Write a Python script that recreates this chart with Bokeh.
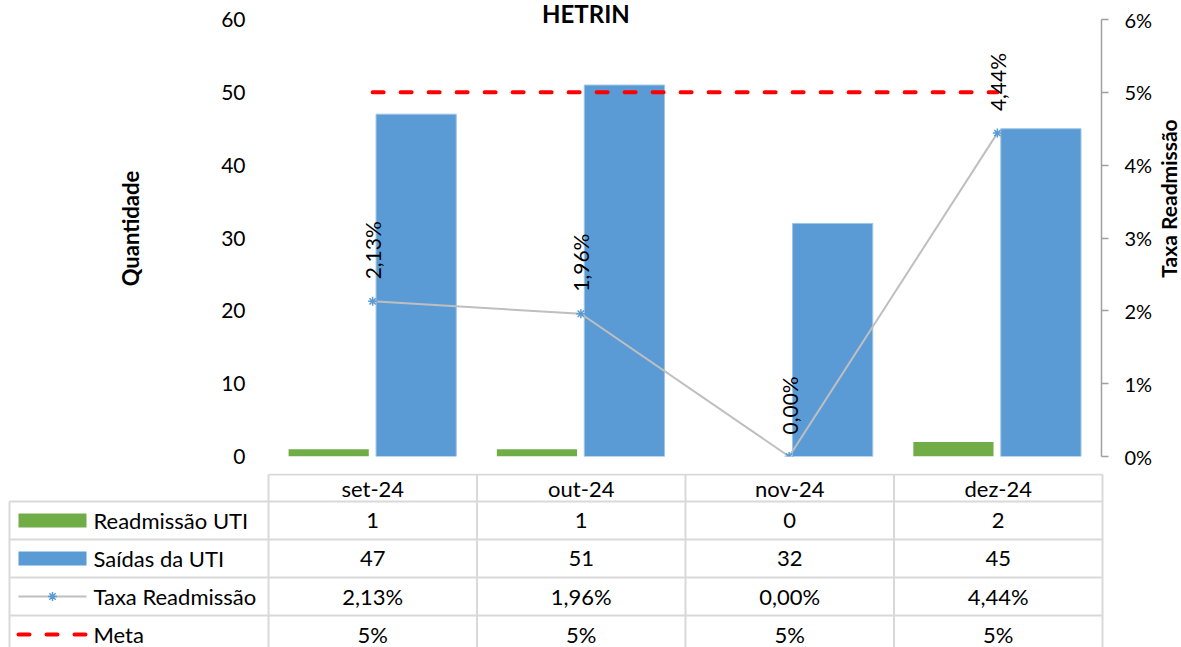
import math
from bokeh.plotting import figure
from bokeh.models import Range1d, LinearAxis, FixedTicker, NumeralTickFormatter, ColumnDataSource
from bokeh.transform import dodge
from bokeh.layouts import column, row
from bokeh.core.properties import value
from bokeh.embed import file_html
from bokeh.resources import INLINE

# ---------------- data ----------------
title = "HETRIN"
categories = ["set-24", "out-24", "nov-24", "dez-24"]
readmissao = [1, 1, 0, 2]
saidas = [47, 51, 32, 45]
taxa = [0.0213, 0.0196, 0.0, 0.0444]
meta = [0.05, 0.05, 0.05, 0.05]
series_names = ["Readmissão UTI", "Saídas da UTI", "Taxa Readmissão", "Meta"]
left_ticks = [0, 10, 20, 30, 40, 50, 60]
right_ticks = [0.0, 0.01, 0.02, 0.03, 0.04, 0.05, 0.06]
left_title = "Quantidade"
right_title = "Taxa Readmissão"

# ---------------- style ----------------
FONT = "Lato"
GREEN = "#70AD47"
BLUE = "#5B9BD5"
RED = "#FF0000"
LINE_GRAY = "#BFBFBF"
GRID = "#D9D9D9"
AXIS_GRAY = "#A0A0A0"

W = 1181
SIDE_W = 26
TOP_W = W - SIDE_W
TOP_H = 473
BOT_H = 174
LEFT = 268
RIGHT = TOP_W - 1102
FRAME_H = 456          # frame spans canvas y 0..456
TOP_PAD = 19           # px between frame top and the max tick
CAT_W = (TOP_W - LEFT - RIGHT) / len(categories)

ymax = left_ticks[-1] * FRAME_H / (FRAME_H - TOP_PAD)
pmax = right_ticks[-1] * FRAME_H / (FRAME_H - TOP_PAD)

fmt_taxa = [f"{v * 100:.2f}%".replace(".", ",") for v in taxa]
fmt_meta = [f"{v * 100:.0f}%" for v in meta]

src = ColumnDataSource(dict(cat=categories, readm=readmissao, said=saidas,
                            taxa=taxa, meta=meta, lab=fmt_taxa))

# ---------------- chart figure ----------------
p = figure(width=TOP_W, height=TOP_H, x_range=categories, y_range=Range1d(0, ymax),
           output_backend="svg", toolbar_location=None,
           x_axis_location=None, y_axis_location="left",
           min_border_left=LEFT, min_border_right=RIGHT,
           min_border_top=0, min_border_bottom=TOP_H - FRAME_H,
           outline_line_color=None, background_fill_color="white",
           border_fill_color="white")
p.frame_align = False
p.grid.visible = False
p.extra_y_ranges = {"pct": Range1d(0, pmax)}

ya = p.yaxis[0]
ya.ticker = FixedTicker(ticks=left_ticks)
ya.bounds = (left_ticks[0], left_ticks[-1])
ya.axis_line_color = None
ya.major_tick_line_color = None
ya.minor_tick_line_color = None
ya.major_tick_out = 0
ya.major_tick_in = 0
ya.major_label_standoff = 23
ya.major_label_text_font = FONT
ya.major_label_text_font_size = "21px"
ya.major_label_text_color = "black"
ya.axis_label = left_title
ya.axis_label_text_font = FONT
ya.axis_label_text_font_style = "bold"
ya.axis_label_text_font_size = "22px"
ya.axis_label_text_color = "black"
ya.axis_label_standoff = 74

ra = LinearAxis(y_range_name="pct", ticker=FixedTicker(ticks=right_ticks),
                formatter=NumeralTickFormatter(format="0%"), bounds=(0, right_ticks[-1]))
ra.axis_line_color = AXIS_GRAY
ra.axis_line_width = 1.5
ra.major_tick_line_color = AXIS_GRAY
ra.major_tick_line_width = 1.5
ra.major_tick_out = 7
ra.major_tick_in = 0
ra.minor_tick_line_color = None
ra.major_label_standoff = 16
ra.major_label_text_font = FONT
ra.major_label_text_font_size = "20px"
ra.major_label_text_color = "black"
p.add_layout(ra, "right")

p.vbar(x=dodge("cat", -0.211, range=p.x_range), top="readm", width=0.385, bottom=0,
       source=src, fill_color=GREEN, line_color=None)
p.vbar(x=dodge("cat", 0.209, range=p.x_range), top="said", width=0.385, bottom=0,
       source=src, fill_color=BLUE, line_color="#9DC3E6", line_width=1)

p.line(x="cat", y="meta", source=src, y_range_name="pct", line_color=RED,
       line_width=4, line_dash="11 17", line_cap="round")
p.line(x="cat", y="taxa", source=src, y_range_name="pct", line_color=LINE_GRAY, line_width=2)
p.scatter(x="cat", y="taxa", source=src, y_range_name="pct", marker="asterisk",
          size=9, line_color=BLUE, line_width=1.5)
p.text(x="cat", y="taxa", text="lab", source=src, y_range_name="pct", angle=90,
       angle_units="deg", text_align="left", text_baseline="middle", y_offset=-22,
       text_font=value(FONT), text_font_size="21px", text_color="black")

p.text(x=[categories[1]], y=[ymax], text=[title], x_offset=5, y_offset=-2,
       text_align="center", text_baseline="top", text_font=value(FONT),
       text_font_style="bold", text_font_size="24px", text_color="black")

# ---------------- right-hand title strip ----------------
s = figure(width=SIDE_W, height=TOP_H, x_range=Range1d(0, SIDE_W), y_range=Range1d(TOP_H, 0),
           output_backend="svg", toolbar_location=None,
           x_axis_location=None, y_axis_location=None,
           min_border_left=0, min_border_right=0, min_border_top=0, min_border_bottom=0,
           outline_line_color=None, background_fill_color="white", border_fill_color="white")
s.frame_align = False
s.grid.visible = False
s.text(x=[13], y=[198], text=[right_title], angle=90, angle_units="deg",
       text_align="center", text_baseline="middle", text_font=value(FONT),
       text_font_style="bold", text_font_size="21px", text_color="black")

# ---------------- data table figure ----------------
B_RIGHT = 73
B_FRAME_W = W - B_RIGHT
x0 = -0.5 - LEFT / CAT_W
x1 = -0.5 + (B_FRAME_W - LEFT) / CAT_W


def px2x(c):
    return (c - LEFT) / CAT_W - 0.5


b = figure(width=W, height=BOT_H, x_range=Range1d(x0, x1), y_range=Range1d(BOT_H, 0),
           output_backend="svg", toolbar_location=None,
           x_axis_location=None, y_axis_location=None,
           min_border_left=0, min_border_right=B_RIGHT, min_border_top=0, min_border_bottom=0,
           outline_line_color=None, background_fill_color="white", border_fill_color="white")
b.frame_align = False
b.grid.visible = False

n = len(categories)
row_y = [1, 28, 66, 104, 142, 180]
row_c = [(row_y[i] + row_y[i + 1]) / 2 for i in range(len(row_y) - 1)]
leg_left = px2x(9)
cat_edges = [i - 0.5 for i in range(n + 1)]

# grid lines
hx0 = [-0.5] + [leg_left] * 4
hx1 = [n - 0.5] * 5
hy = row_y[:5]
b.segment(x0=hx0, y0=hy, x1=hx1, y1=hy, line_color=GRID, line_width=2)
b.segment(x0=[leg_left], y0=[row_y[1]], x1=[leg_left], y1=[row_y[-1]], line_color=GRID, line_width=2)
b.segment(x0=cat_edges, y0=[row_y[0]] * len(cat_edges), x1=cat_edges,
          y1=[row_y[-1]] * len(cat_edges), line_color=GRID, line_width=2)

idx = list(range(n))
tf = dict(text_font=value(FONT), text_font_size="22px", text_color="black",
          text_baseline="middle")
b.text(x=idx, y=[row_c[0]] * n, text=categories, text_align="center", **tf)
b.text(x=idx, y=[row_c[1]] * n, text=[str(v) for v in readmissao], text_align="center", **tf)
b.text(x=idx, y=[row_c[2]] * n, text=[str(v) for v in saidas], text_align="center", **tf)
b.text(x=idx, y=[row_c[3]] * n, text=fmt_taxa, text_align="center", **tf)
b.text(x=idx, y=[row_c[4]] * n, text=fmt_meta, text_align="center", **tf)

# legend keys
b.text(x=[px2x(93)] * 4, y=row_c[1:], text=series_names, text_align="left", **tf)
b.quad(left=[px2x(18)], right=[px2x(86)], top=[row_c[1] - 7], bottom=[row_c[1] + 7],
       fill_color=GREEN, line_color=None)
b.quad(left=[px2x(18)], right=[px2x(86)], top=[row_c[2] - 7], bottom=[row_c[2] + 7],
       fill_color=BLUE, line_color=None)
b.line(x=[px2x(18), px2x(86)], y=[row_c[3]] * 2, line_color=LINE_GRAY, line_width=2)
b.scatter(x=[px2x(52)], y=[row_c[3]], marker="asterisk", size=9, line_color=BLUE, line_width=1.5)
b.line(x=[px2x(18), px2x(86)], y=[row_c[4]] * 2, line_color=RED, line_width=4,
       line_dash="11 17", line_cap="round")

layout = column(row(p, s, spacing=0), b, spacing=0)
open("out.html", "w").write(file_html(layout, INLINE))
